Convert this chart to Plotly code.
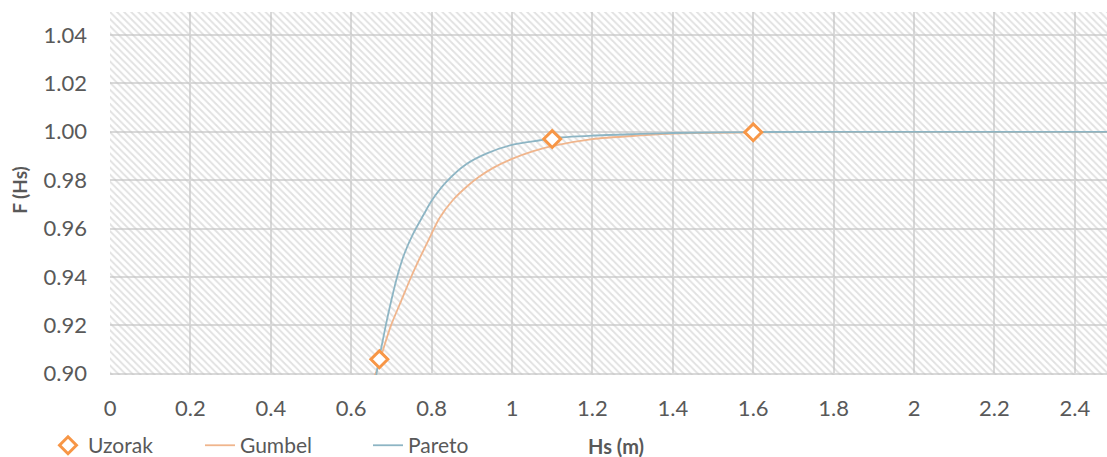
import plotly.graph_objects as go

# ---- data ----
uzorak_x = [0.67, 1.10, 1.60]
uzorak_y = [0.906, 0.9970, 0.9998]

gumbel_x = [0.655, 0.665, 0.682, 0.699, 0.724, 0.749, 0.774, 0.795, 0.819, 0.853,
            0.890, 0.919, 0.952, 1.000, 1.053, 1.099, 1.200, 1.320, 1.400, 1.600,
            2.000, 2.500]
gumbel_y = [0.898, 0.902, 0.9114, 0.920, 0.930, 0.940, 0.949, 0.9562, 0.9642, 0.9718,
            0.9777, 0.9815, 0.9850, 0.9888, 0.9920, 0.9941, 0.9970, 0.9985, 0.9993, 0.9998,
            1.0000, 1.0000]

pareto_x = [0.660, 0.665, 0.686, 0.700, 0.715, 0.732, 0.753, 0.780, 0.800, 0.836, 0.886,
            0.936, 1.000, 1.069, 1.098, 1.200, 1.320, 1.400, 1.600, 2.000, 2.500]
pareto_y = [0.897, 0.902, 0.920, 0.9305, 0.9405, 0.9495, 0.9575, 0.9657, 0.9715, 0.9792, 0.9866,
            0.991, 0.9946, 0.9965, 0.9973, 0.9984, 0.9991, 0.9995, 0.9999, 1.0000, 1.0000]

x_ticks = [0, 0.2, 0.4, 0.6, 0.8, 1, 1.2, 1.4, 1.6, 1.8, 2, 2.2, 2.4]
x_tick_text = ["0", "0.2", "0.4", "0.6", "0.8", "1", "1.2", "1.4", "1.6", "1.8", "2", "2.2", "2.4"]
y_ticks = [0.90, 0.92, 0.94, 0.96, 0.98, 1.00, 1.02, 1.04]
y_tick_text = ["0.90", "0.92", "0.94", "0.96", "0.98", "1.00", "1.02", "1.04"]

x_range = [0, 2.48]
y_range = [0.8995, 1.0495]

FONT = "Lato"
TXT = "#595959"
ORANGE = "#F79646"
GUMBEL_C = "#F0B58C"
PARETO_C = "#8DB5C4"

fig = go.Figure()

# hatched plot-area background
fig.add_trace(go.Scatter(
    x=[x_range[0], x_range[1], x_range[1], x_range[0], x_range[0]],
    y=[y_range[0], y_range[0], y_range[1], y_range[1], y_range[0]],
    mode="lines", line=dict(width=0), fill="toself",
    fillcolor="rgba(0,0,0,0)",
    fillpattern=dict(shape="\\", size=5, solidity=0.38, fgcolor="#c4c4c4",
                     bgcolor="rgba(0,0,0,0)", fillmode="overlay"),
    hoverinfo="skip", showlegend=False,
))

fig.add_trace(go.Scatter(
    x=gumbel_x, y=gumbel_y, mode="lines", name="Gumbel", legend="legend2",
    line=dict(color=GUMBEL_C, width=1.8, shape="spline", smoothing=0.8),
))
fig.add_trace(go.Scatter(
    x=pareto_x, y=pareto_y, mode="lines", name="Pareto", legend="legend3",
    line=dict(color=PARETO_C, width=1.8, shape="spline", smoothing=0.8),
))
fig.add_trace(go.Scatter(
    x=uzorak_x, y=uzorak_y, mode="markers", name="Uzorak", legend="legend",
    marker=dict(symbol="diamond", size=13, color="white",
                line=dict(color=ORANGE, width=3)),
))

def leg(xpx):
    return dict(orientation="h", x=(xpx - 110) / 997, y=-0.1945,
                xanchor="left", yanchor="middle",
                font=dict(family=FONT, size=21, color=TXT),
                bgcolor="rgba(0,0,0,0)")

fig.update_layout(
    width=1107, height=457,
    margin=dict(l=110, r=0, t=12, b=82, autoexpand=False),
    paper_bgcolor="white", plot_bgcolor="white",
    font=dict(family=FONT, size=22, color=TXT),
    showlegend=True,
    legend=leg(48),
    legend2=leg(200),
    legend3=leg(368),
    annotations=[
        dict(text="<b>Hs (m)</b>", xref="paper", yref="paper", x=0.5075, y=-0.1945,
             showarrow=False, xanchor="center", yanchor="middle",
             font=dict(family=FONT, size=20, color=TXT)),
        dict(text="<b>F (Hs)</b>", xref="paper", yref="paper", x=-0.0903, y=0.51,
             showarrow=False, xanchor="center", yanchor="middle", textangle=-90,
             font=dict(family=FONT, size=19, color=TXT)),
    ],
)
fig.update_xaxes(range=x_range, tickvals=x_ticks, ticktext=x_tick_text, automargin=False,
                 showgrid=True, gridcolor="#d9d9d9", gridwidth=2,
                 zeroline=False, showline=False, ticks="", ticklabelstandoff=18,
                 tickfont=dict(family=FONT, size=22, color=TXT))
fig.update_yaxes(range=y_range, tickvals=y_ticks, ticktext=y_tick_text, automargin=False,
                 showgrid=True, gridcolor="#d9d9d9", gridwidth=2,
                 zeroline=False, showline=False, ticks="", ticklabelstandoff=22,
                 tickfont=dict(family=FONT, size=22, color=TXT))

fig.write_html("out.html", config={"displayModeBar": False},
               post_script="document.body.style.margin='0';document.body.style.padding='0';")
